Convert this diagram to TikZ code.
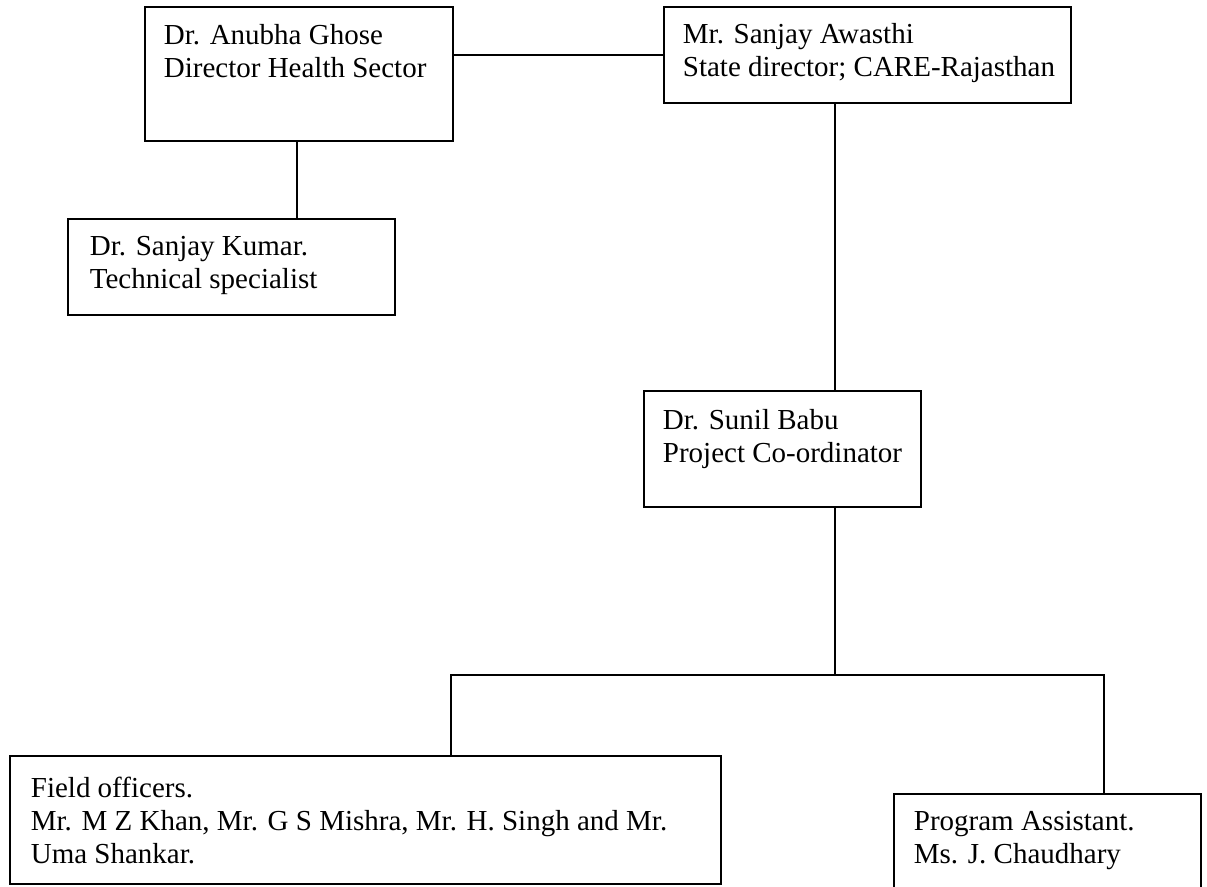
\documentclass[tikz,border=0pt]{standalone}
\usepackage{fontspec}
\setmainfont{Liberation Serif}
\newcommand\orgfont{\fontsize{29pt}{33pt}\selectfont}
\tikzset{
  orgbox/.style={draw, line width=1.8pt, inner sep=0pt, anchor=north west, align=left},
  conn/.style={line width=1.8pt},
  x=1pt, y=-1pt
}
\begin{document}
\begin{tikzpicture}
\useasboundingbox (0,0) rectangle (1207,886);
\clip (0,0) rectangle (1207,886);
% boxes
\node[orgbox] (A) at (144,6) {\parbox[c][134pt][t]{308pt}{\orgfont\raggedright\vspace*{17pt}\leftskip=19pt
  Dr. Anubha Ghose\\Director Health Sector}};
\node[orgbox] (B) at (663,6) {\parbox[c][96pt][t]{407pt}{\orgfont\raggedright\vspace*{16pt}\leftskip=19pt
  Mr. Sanjay Awasthi\\State director; CARE-Rajasthan}};
\node[orgbox] (C) at (67,218) {\parbox[c][96pt][t]{327pt}{\orgfont\raggedright\vspace*{17pt}\leftskip=22pt
  Dr. Sanjay Kumar.\\Technical specialist}};
\node[orgbox] (D) at (643,390) {\parbox[c][116pt][t]{277pt}{\orgfont\raggedright\vspace*{18pt}\leftskip=19pt
  Dr. Sunil Babu\\Project Co-ordinator}};
\node[orgbox] (E) at (9,755) {\parbox[c][128pt][t]{711pt}{\orgfont\raggedright\vspace*{21pt}\leftskip=21pt
  Field officers.\\Mr. M Z Khan, Mr. G S Mishra, Mr. H. Singh and Mr.\\Uma Shankar.}};
\node[orgbox] (F) at (893,793) {\parbox[c][110pt][t]{307pt}{\orgfont\raggedright\vspace*{17pt}\leftskip=20pt
  Program Assistant.\\Ms. J. Chaudhary}};
% connectors
\coordinate (T) at (835,675);
\draw[conn] (A.east |- 0,55) -- (B.west |- 0,55);
\draw[conn] (A.south -| 297,0) -- (C.north -| 297,0);
\draw[conn] (B.south -| 835,0) -- (D.north -| 835,0);
\draw[conn] (D.south -| T) -- (T);
\draw[conn] (E.north -| 451,0) -- (451,675) -- (1104,675) -- (F.north -| 1104,0);
\end{tikzpicture}
\end{document}
